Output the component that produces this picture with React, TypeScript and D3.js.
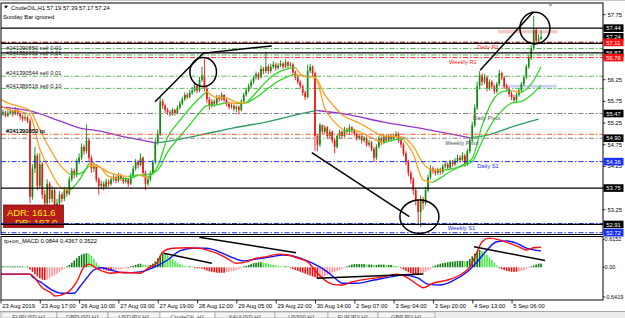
import React from "react";
import * as d3 from "d3";

// ---------------- DATA ----------------
const firstOpen = 55.4;
const closes = [
  55.45, 55.5, 55.42, 55.48, 55.52, 55.45, 55.55, 55.47, 55.4, 55.35,
  55.38, 55.3, 53.55, 54.2, 54.5, 53.8, 54.3, 53.6, 53.4, 53.85,
  53.5, 53.7, 53.3, 53.4, 53.6, 53.5, 53.7, 53.62, 53.95, 54.15,
  54.05, 54.35, 54.45, 54.7, 54.6, 54.85, 54.45, 54.2, 54.25, 53.95,
  53.8, 53.85, 53.78, 53.9, 53.85, 53.95, 54.0, 53.92, 54.05, 53.98,
  53.9, 53.95, 53.85, 54.05, 54.2, 54.35, 54.28, 54.45, 54.1, 53.85,
  53.95, 54.1, 54.35, 54.8, 55.0, 55.75, 55.65, 55.55, 55.5, 55.45,
  55.55, 55.48, 55.6, 55.7, 55.8, 55.9, 55.85, 55.95, 56.0, 56.1,
  56.0, 56.25, 56.35, 56.05, 55.8, 55.65, 55.75, 55.7, 55.85, 55.8,
  55.9, 55.78, 55.7, 55.62, 55.65, 55.58, 55.62, 55.55, 55.75, 55.9,
  56.0, 56.1, 56.2, 56.3, 56.38, 56.3, 56.5, 56.45, 56.55, 56.45,
  56.55, 56.6, 56.52, 56.58, 56.62, 56.55, 56.65, 56.58, 56.6, 56.42,
  56.3, 56.2, 56.1, 55.95, 55.85, 56.45, 56.55, 56.4, 54.95, 54.75,
  55.2, 55.05, 55.15, 54.95, 55.05, 54.85, 54.7, 54.95, 55.05, 54.95,
  55.1, 55.05, 55.15, 55.08, 55.0, 54.9, 54.95, 54.85, 54.9, 54.75,
  54.8, 54.65, 54.45, 54.7, 54.9, 54.8, 54.95, 54.85, 54.95, 54.88,
  54.95, 55.0, 54.85, 54.75, 54.55, 54.35, 54.1, 53.95, 53.7, 53.45,
  53.2, 53.5, 53.4, 53.7, 54.0, 54.2, 54.15, 54.1, 54.18, 54.12,
  54.25, 54.3, 54.22, 54.35, 54.3, 54.38, 54.45, 54.4, 54.5, 54.3,
  54.6, 54.85, 55.2, 55.6, 56.1, 56.35, 56.2, 56.3, 56.05, 56.2,
  56.1, 55.98, 56.15, 56.4, 56.3, 56.1, 56.05, 55.92, 55.85, 55.78,
  55.9, 56.0, 56.15, 56.3, 56.55, 56.75, 56.98, 57.4, 57.15, 57.19,
  57.24,
];
const highs = [
  55.52, 55.56, 55.53, 55.54, 55.58, 55.55, 55.62, 55.57, 55.5, 55.44,
  55.45, 55.42, 55.35, 54.3, 54.7, 54.55, 54.55, 54.35, 53.7, 53.95,
  53.9, 53.8, 53.75, 53.5, 53.68, 53.65, 53.78, 53.75, 54.02, 54.22,
  54.2, 54.42, 54.55, 54.78, 54.75, 55.22, 54.9, 54.5, 54.35, 54.3,
  54.0, 53.92, 53.9, 53.96, 53.95, 54.02, 54.08, 54.04, 54.1, 54.08,
  54.02, 54.0, 53.98, 54.1, 54.26, 54.42, 54.4, 54.55, 54.48, 54.15,
  54.02, 54.15, 54.4, 54.88, 55.1, 55.85, 55.8, 55.7, 55.6, 55.55,
  55.6, 55.58, 55.66, 55.76, 55.86, 55.96, 55.95, 56.02, 56.08, 56.16,
  56.14, 56.32, 56.55, 56.75, 56.1, 55.85, 55.8, 55.8, 55.9, 55.9,
  55.96, 55.92, 55.82, 55.74, 55.72, 55.68, 55.66, 55.66, 55.8, 55.95,
  56.06, 56.16, 56.26, 56.35, 56.44, 56.42, 56.58, 56.55, 56.9, 56.6,
  56.62, 56.68, 56.64, 56.64, 56.7, 56.66, 56.72, 56.68, 56.66, 56.64,
  56.46, 56.35, 56.24, 56.14, 56.0, 56.6, 56.62, 56.58, 56.44, 55.0,
  55.25, 55.22, 55.2, 55.18, 55.1, 55.08, 54.9, 55.0, 55.1, 55.08,
  55.16, 55.14, 55.22, 55.18, 55.12, 55.04, 55.0, 54.98, 54.95, 54.94,
  54.86, 54.84, 54.7, 54.76, 54.96, 54.94, 55.0, 54.98, 55.0, 54.98,
  55.0, 55.06, 55.04, 54.9, 54.8, 54.6, 54.4, 54.15, 54.0, 53.75,
  53.5, 53.58, 53.55, 53.78, 54.06, 54.28, 54.25, 54.2, 54.22, 54.22,
  54.3, 54.36, 54.34, 54.4, 54.4, 54.44, 54.52, 54.5, 54.58, 54.54,
  54.66, 54.92, 55.28, 55.68, 56.2, 56.45, 56.4, 56.38, 56.34, 56.26,
  56.24, 56.14, 56.2, 56.48, 56.44, 56.34, 56.16, 56.08, 55.98, 55.9,
  55.95, 56.06, 56.2, 56.36, 56.6, 56.82, 57.05, 57.72, 57.45, 57.3,
  57.39,
];
const lows = [
  55.36, 55.42, 55.38, 55.39, 55.44, 55.4, 55.43, 55.42, 55.33, 55.28,
  55.3, 55.25, 53.4, 53.48, 54.1, 53.7, 53.75, 53.5, 53.25, 53.35,
  53.4, 53.42, 53.12, 53.22, 53.35, 53.42, 53.45, 53.55, 53.58, 53.9,
  53.98, 54.0, 54.3, 54.4, 54.52, 54.55, 54.38, 54.1, 54.12, 53.88,
  53.6, 53.72, 53.7, 53.74, 53.78, 53.8, 53.9, 53.86, 53.88, 53.92,
  53.84, 53.86, 53.78, 53.82, 54.0, 54.15, 54.2, 54.25, 54.02, 53.7,
  53.8, 53.9, 54.05, 54.3, 54.75, 54.95, 55.58, 55.48, 55.44, 55.4,
  55.42, 55.42, 55.45, 55.56, 55.66, 55.76, 55.8, 55.82, 55.9, 55.96,
  55.94, 55.96, 56.2, 55.98, 55.72, 55.55, 55.6, 55.62, 55.66, 55.74,
  55.76, 55.72, 55.64, 55.56, 55.58, 55.52, 55.5, 55.45, 55.52, 55.7,
  55.86, 55.96, 56.05, 56.15, 56.25, 56.24, 56.28, 56.38, 56.4, 56.38,
  56.4, 56.5, 56.46, 56.48, 56.54, 56.5, 56.52, 56.52, 56.54, 56.36,
  56.24, 56.14, 56.04, 55.88, 55.78, 55.82, 56.4, 56.32, 54.6, 54.6,
  54.7, 54.98, 55.0, 54.88, 54.9, 54.78, 54.55, 54.66, 54.9, 54.88,
  54.92, 54.98, 55.0, 55.02, 54.94, 54.84, 54.86, 54.78, 54.8, 54.7,
  54.7, 54.6, 54.35, 54.4, 54.66, 54.74, 54.76, 54.8, 54.82, 54.82,
  54.84, 54.9, 54.8, 54.68, 54.48, 54.28, 54.02, 53.85, 53.6, 53.35,
  52.95, 52.85, 53.25, 53.35, 53.65, 53.95, 54.08, 54.04, 54.06, 54.06,
  54.08, 54.2, 54.16, 54.18, 54.24, 54.26, 54.32, 54.34, 54.36, 54.24,
  54.26, 54.55, 54.8, 55.15, 55.55, 56.02, 56.12, 56.15, 55.98, 56.0,
  56.04, 55.92, 55.94, 56.1, 56.24, 56.04, 55.98, 55.86, 55.78, 55.72,
  55.74, 55.86, 55.96, 56.1, 56.26, 56.5, 56.7, 56.92, 57.08, 57.1,
  57.17,
];

const timeLabels = [
  "23 Aug 2019", "23 Aug 17:00", "26 Aug 10:00", "27 Aug 03:00", "27 Aug 19:00",
  "28 Aug 12:00", "29 Aug 05:00", "29 Aug 22:00", "30 Aug 14:00", "2 Sep 07:00",
  "3 Sep 04:00", "3 Sep 20:00", "4 Sep 13:00", "5 Sep 06:00",
];
const timeLabelBars = [0, 16, 32, 48, 64, 80, 96, 112, 128, 144, 160, 176, 192, 208];

const priceTicks = [57.75, 57.25, 56.75, 56.25, 55.75, 55.25, 54.75, 54.25, 53.75, 53.25, 52.75];
const macdTicks = [0.6152, 0, -0.6419];
const macdTickLabels = ["0.6152", "0.00", "-0.6419"];

// moving averages
const maBars = [
  0, 4, 8, 12, 16, 20, 24, 28, 32, 36, 40, 44, 48, 52, 56, 60, 64, 68, 72, 76,
  80, 84, 88, 92, 96, 100, 104, 108, 112, 116, 120, 124, 128, 132, 136, 140, 144, 148, 152, 156,
  160, 164, 168, 172, 176, 180, 184, 188, 192, 196, 200, 204, 208, 212, 216, 220,
];
const fastMA = [
  55.65, 55.55, 55.52, 55.43, 54.65, 54.18, 53.8, 53.69, 53.93, 54.32,
  54.26, 54.02, 53.97, 53.97, 54.05, 54.0, 54.25, 54.92, 55.24, 55.52,
  55.77, 55.98, 55.84, 55.83, 55.73, 55.71, 55.95, 56.2, 56.39, 56.49,
  56.53, 56.32, 56.31, 55.59, 55.27, 55.07, 55.09, 55.0, 54.88, 54.79,
  54.86, 54.88, 54.53, 53.94, 53.88, 54.02, 54.16, 54.28, 54.43, 55.19,
  55.74, 55.97, 56.0, 55.95, 56.15, 56.55,
];
const slowMA = [
  55.8, 55.69, 55.63, 55.54, 55.09, 54.67, 54.3, 54.07, 54.08, 54.26,
  54.24, 54.11, 54.05, 54.02, 54.05, 54.06, 54.16, 54.58, 54.87, 55.14,
  55.42, 55.65, 55.67, 55.72, 55.7, 55.72, 55.84, 56.01, 56.18, 56.3,
  56.38, 56.33, 56.3, 55.9, 55.62, 55.4, 55.3, 55.19, 55.05, 54.95,
  54.94, 54.92, 54.71, 54.32, 54.17, 54.16, 54.2, 54.26, 54.36, 54.83,
  55.25, 55.53, 55.71, 55.75, 55.9, 56.12,
];
const longBars = [0, 12, 24, 32, 40, 49, 57, 63, 69, 81, 95, 108, 122, 129, 142, 156, 170, 183, 191, 198, 207, 219];
const longMA = [
  55.62, 55.53, 55.3, 55.14, 55.07, 54.95, 54.86, 54.79, 54.84, 54.97, 55.14,
  55.27, 55.46, 55.54, 55.44, 55.27, 55.14, 55.0, 54.91, 54.97, 55.14, 55.34,
];

// MACD
const macdMainBars = [
  0, 12, 17, 21, 22, 27, 31, 34, 36, 39, 45, 49, 57, 60, 64, 66, 70, 76, 81, 84,
  88, 92, 96, 100, 104, 108, 113, 117, 121, 125, 129, 133, 135, 139, 143, 149, 156, 161, 165, 170,
  172, 176, 182, 187, 191, 194, 196, 199, 203, 207, 211, 214, 217, 220,
];
const macdMain = [
  -0.15, -0.15, -0.45, -0.58, -0.63, -0.56, -0.32, 0.01, 0.07, -0.02,
  -0.13, -0.11, -0.13, -0.02, 0.12, 0.34, 0.42, 0.43, 0.42, 0.38,
  0.31, 0.2, 0.09, 0.12, 0.2, 0.23, 0.29, 0.27, 0.2, 0.12,
  -0.13, -0.32, -0.37, -0.39, -0.32, -0.26, -0.21, -0.15, -0.21, -0.39,
  -0.45, -0.35, -0.28, -0.17, 0.01, 0.34, 0.56, 0.64, 0.6, 0.53,
  0.45, 0.38, 0.43, 0.44,
];
const macdSignalBars = [
  0, 12, 13, 17, 21, 25, 30, 32, 35, 38, 41, 45, 50, 57, 62, 68, 73, 78, 84, 89,
  95, 99, 104, 110, 115, 119, 123, 127, 133, 137, 139, 145, 152, 159, 164, 170, 174, 179, 184, 190,
  194, 198, 202, 206, 210, 214, 220,
];
const macdSignal = [
  -0.15, -0.15, -0.21, -0.35, -0.5, -0.57, -0.57, -0.45, -0.24, -0.06,
  -0.01, -0.06, -0.12, -0.1, -0.01, 0.16, 0.36, 0.42, 0.42, 0.34,
  0.2, 0.14, 0.18, 0.23, 0.27, 0.25, 0.18, 0.09, -0.1, -0.28,
  -0.35, -0.35, -0.28, -0.21, -0.17, -0.24, -0.37, -0.39, -0.3, -0.1,
  0.12, 0.38, 0.56, 0.58, 0.53, 0.42, 0.36,
];
const macdHist = [
  0.01, 0.01, 0.01, 0.01, 0.01, 0.01, 0.01, 0.01, 0.01, 0.01,
  0.0, 0.0, -0.05, -0.1, -0.15, -0.2, -0.24, -0.27, -0.28, -0.27,
  -0.24, -0.2, -0.18, -0.14, -0.1, -0.06, -0.03, 0.01, 0.05, 0.1,
  0.15, 0.2, 0.25, 0.28, 0.3, 0.31, 0.3, 0.25, 0.18, 0.1,
  0.04, -0.02, -0.05, -0.07, -0.08, -0.08, -0.07, -0.06, -0.05, -0.04,
  -0.03, -0.02, -0.02, 0.01, 0.03, 0.05, 0.07, 0.08, 0.06, 0.05,
  0.04, 0.05, 0.08, 0.13, 0.2, 0.26, 0.3, 0.29, 0.26, 0.22,
  0.18, 0.14, 0.1, 0.07, 0.04, 0.02, 0.01, 0.01, 0.0, -0.01,
  -0.01, -0.02, -0.03, -0.05, -0.07, -0.09, -0.1, -0.11, -0.12, -0.12,
  -0.12, -0.12, -0.11, -0.1, -0.09, -0.08, -0.06, -0.04, -0.02, 0.01,
  0.03, 0.05, 0.07, 0.09, 0.1, 0.11, 0.11, 0.1, 0.09, 0.08,
  0.06, 0.05, 0.04, 0.03, 0.02, 0.01, 0.01, 0.0, -0.02, -0.04,
  -0.06, -0.08, -0.1, -0.12, -0.14, -0.16, -0.18, -0.2, -0.22, -0.24,
  -0.23, -0.21, -0.19, -0.17, -0.14, -0.12, -0.1, -0.08, -0.06, -0.04,
  -0.02, 0.02, 0.04, 0.06, 0.07, 0.07, 0.07, 0.07, 0.07, 0.06,
  0.06, 0.06, 0.05, 0.05, 0.06, 0.06, 0.06, 0.05, 0.05, 0.05,
  0.04, 0.03, 0.01, -0.02, -0.05, -0.08, -0.11, -0.13, -0.15, -0.16,
  -0.16, -0.15, -0.13, -0.1, -0.07, -0.04, 0.02, 0.04, 0.06, 0.08,
  0.09, 0.1, 0.11, 0.12, 0.13, 0.13, 0.14, 0.14, 0.14, 0.13,
  0.14, 0.18, 0.24, 0.3, 0.35, 0.38, 0.36, 0.32, 0.27, 0.22,
  0.16, 0.1, 0.04, -0.01, -0.04, -0.06, -0.08, -0.09, -0.1, -0.1,
  -0.1, -0.09, -0.08, -0.06, -0.04, -0.02, 0.01, 0.04, 0.06, 0.08,
  0.08,
];

// horizontal levels
const levelPrices = [57.44, 57.115, 57.09, 56.97, 56.87, 56.82, 56.76, 56.33, 56.05, 55.47, 54.99, 54.9, 54.36, 53.75, 52.93, 52.91, 52.72];
const levelKinds = ["solid", "darkred", "solid", "order", "solid", "order", "red", "order", "order", "gray", "tp", "gray", "blue", "solid", "blue", "solid", "blue"];

const priceBoxValues = [57.44, 57.24, 57.11, 56.87, 56.76, 55.47, 54.9, 54.36, 53.75, 52.91, 52.72];
const priceBoxKinds = ["black", "black", "red", "black", "red", "black", "black", "blue", "black", "black", "blue"];

const orderLabels = ["#241390850 sell 0.01", "#241391002 sell 0.01", "#241390544 sell 0.01", "#241386516 sell 0.10", "#241390850 tp", "#241391002 tp"];
const orderLabelPrices = [56.93, 56.81, 56.37, 56.06, 55.02, 55.02];

const pivotLabels = ["Daily R1", "Weekly R1", "Daily Pivot", "Weekly Pivot", "Daily S1", "Weekly S1"];
const pivotLabelBars = [194, 182.5, 192.3, 181, 194, 182];
const pivotLabelPrices = [57.11, 56.76, 55.47, 54.9, 54.36, 52.93];
const pivotLabelKinds = ["red", "red", "gray", "gray", "blue", "blue"];

const zoneBarStart = [202.5, 204];
const zoneBarEnd = [226.5, 226.5];
const zoneTop = [57.4, 56.13];
const zoneBottom = [57.32, 56.07];
const zoneKinds = ["pink", "lavender"];

const trendBar1 = [62.9, 82.5, 126.7, 195.2];
const trendPrice1 = [55.74, 56.86, 54.57, 56.47];
const trendBar2 = [82.5, 110.4, 166.4, 216.9];
const trendPrice2 = [56.86, 57.03, 53.09, 57.82];

const ellipseBar = [82.5, 170.5, 217.5];
const ellipsePrice = [56.43, 53.09, 57.44];

const macdTrendBar1 = [80.9, 66.3, 128.7, 192.7];
const macdTrendVal1 = [0.66, 0.31, -0.24, 0.45];
const macdTrendBar2 = [120.3, 86, 172.1, 221.6];
const macdTrendVal2 = [0.32, 0.09, -0.15, 0.15];

const titleText = "CrudeOIL,H1  57.19 57.39 57.17 57.24";
const subTitle = "Sunday Bar ignored";
const macdTitle = "tp+on_MACD 0.0844 0.4367 0.3522";
const adrText = "ADR: 161.6";
const drText = "DR: 197.0";
const tabNames = ["EURUSD,H1", "GBPUSD,H1", "USDJPY,H1", "CrudeOIL,H1", "XAUUSD,H1", "US500,H1", "EURJPY,H1", "GBPJPY,H1"];

// ---------------- STYLE ----------------
const FONT = "'Liberation Sans', Arial, sans-serif";
const FS = 5.8;
const BULL = "#0f8a0f";
const BEAR = "#ee1515";
const ORANGE = "#ffa01e";
const LIME = "#34d62a";
const PURPLE = "#9932cc";
const SEAGREEN = "#2e9b5e";
const PLOT = { left: 1, right: 603, top: 3, bottom: 234.5 };
const MPLOT = { top: 236.5, bottom: 300 };
const ellipseRadii = [[13.3, 14.5], [19.5, 16.7], [15, 15.8]];
const tabEdges = [1, 57, 108, 160, 215, 275, 328, 378, 435];

const levelStyle: Record<string, { stroke: string; dash?: string; w: number }> = {
  solid: { stroke: "#000", w: 1.2 },
  darkred: { stroke: "#9b0000", dash: "5,2,1.5,2", w: 1.1 },
  order: { stroke: "#55bb55", dash: "5,2,1.5,2", w: 1 },
  red: { stroke: "#ff2020", dash: "5,2,1.5,2", w: 1 },
  gray: { stroke: "#808080", dash: "5,2,1.5,2", w: 1 },
  tp: { stroke: "#ff5a1a", dash: "5,2,1.5,2", w: 1 },
  blue: { stroke: "#2030ee", dash: "5,2,1.5,2", w: 1 },
};
const boxFill: Record<string, string> = { black: "#000", red: "#ff1010", blue: "#1830ff" };
const textColor: Record<string, string> = { red: "#ff2020", gray: "#555555", blue: "#2030ee" };
const zoneFill: Record<string, string> = { pink: "#f6c8c8", lavender: "#cfd0f4" };

function runs(bars: number[], vals: number[]) {
  const out: { up: boolean; pts: [number, number][] }[] = [];
  for (let k = 1; k < bars.length; k++) {
    const up = vals[k] >= vals[k - 1];
    const last = out[out.length - 1];
    if (last && last.up === up) last.pts.push([bars[k], vals[k]]);
    else out.push({ up, pts: [[bars[k - 1], vals[k - 1]], [bars[k], vals[k]]] });
  }
  return out;
}

export default function App() {
  const x = d3.scaleLinear().domain([0, 245]).range([0.5, 0.5 + 245 * 2.457]);
  const y = d3.scaleLinear().domain([57.75, 52.72]).range([14.7, 232.7]);
  const ym = d3.scaleLinear().domain([0.6152, -0.6419]).range([239.3, 296.5]);

  const lineMain = d3.line<[number, number]>().x((d) => x(d[0])).y((d) => y(d[1])).curve(d3.curveMonotoneX);
  const lineMacd = d3.line<[number, number]>().x((d) => x(d[0])).y((d) => ym(d[1])).curve(d3.curveMonotoneX);

  const bw = 1.7;

  const maLayer = (bars: number[], vals: number[], upCol: string, downCol: string, key: string) =>
    runs(bars, vals).map((r, k) => (
      <path key={key + k} d={lineMain(r.pts) || ""} fill="none" stroke={r.up ? upCol : downCol} strokeWidth={1.3} />
    ));

  return (
    <svg width={625} height={318} style={{ position: "absolute", left: 0, top: 0, background: "#fff" }} fontFamily={FONT}>
      <defs>
        <clipPath id="mainClip">
          <rect x={PLOT.left} y={PLOT.top} width={PLOT.right - PLOT.left} height={PLOT.bottom - PLOT.top} />
        </clipPath>
        <clipPath id="macdClip">
          <rect x={PLOT.left} y={MPLOT.top} width={PLOT.right - PLOT.left} height={MPLOT.bottom - MPLOT.top} />
        </clipPath>
        <clipPath id="drClip">
          <rect x={0} y={200} width={70} height={23.5} />
        </clipPath>
      </defs>
      <rect x={0} y={0} width={625} height={318} fill="#fff" />
      <line x1={0} x2={625} y1={0.5} y2={0.5} stroke="#c8c8c8" />

      {/* ---------- MAIN PANEL ---------- */}
      <g clipPath="url(#mainClip)">
        {zoneKinds.map((k, i) => (
          <rect key={"z" + i} x={x(zoneBarStart[i])} width={x(zoneBarEnd[i]) - x(zoneBarStart[i])} y={y(zoneTop[i])} height={y(zoneBottom[i]) - y(zoneTop[i])} fill={zoneFill[k]} />
        ))}
        {closes.map((c, i) => {
          const o = i === 0 ? firstOpen : closes[i - 1];
          const col = c >= o ? BULL : BEAR;
          const cx = x(i);
          const yt = y(Math.max(o, c));
          const yb = y(Math.min(o, c));
          return (
            <g key={"c" + i}>
              <line x1={cx} x2={cx} y1={y(highs[i])} y2={y(lows[i])} stroke={col} strokeWidth={0.9} />
              <rect x={cx - bw / 2} y={yt} width={bw} height={Math.max(0.9, yb - yt)} fill={col} />
            </g>
          );
        })}
        {maLayer(longBars, longMA, SEAGREEN, PURPLE, "l")}
        {maLayer(maBars, slowMA, LIME, ORANGE, "s")}
        {maLayer(maBars, fastMA, LIME, ORANGE, "f")}

        {/* ADR box */}
        <rect x={3.5} y={205} width={60} height={22.5} fill="#b41c1c" stroke="#8a1010" strokeWidth={0.8} />
        <text x={7} y={216} fontSize={9.4} fill="#ffee00">{adrText}</text>
        <g clipPath="url(#drClip)">
          <text x={15} y={225.8} fontSize={9.4} fill="#ffee00">{drText}</text>
        </g>

        {levelPrices.map((p, i) => {
          const s = levelStyle[levelKinds[i]];
          return (
            <line key={"lv" + i} x1={PLOT.left} x2={PLOT.right} y1={y(p)} y2={y(p)} stroke={s.stroke} strokeWidth={s.w} strokeDasharray={s.dash} />
          );
        })}

        {orderLabels.map((t, i) => (
          <text key={"ol" + i} x={6} y={y(orderLabelPrices[i])} fontSize={FS} fill="#222">{t}</text>
        ))}
        {pivotLabels.map((t, i) => (
          <text key={"pl" + i} x={x(pivotLabelBars[i])} y={y(pivotLabelPrices[i]) + 6.6} fontSize={FS} fill={textColor[pivotLabelKinds[i]]}>{t}</text>
        ))}

        {trendBar1.map((b, i) => (
          <line key={"t" + i} x1={x(b)} y1={y(trendPrice1[i])} x2={x(trendBar2[i])} y2={y(trendPrice2[i])} stroke="#000" strokeWidth={1.5} />
        ))}
        {ellipseBar.map((b, i) => (
          <ellipse key={"e" + i} cx={x(b)} cy={y(ellipsePrice[i])} rx={ellipseRadii[i][0]} ry={ellipseRadii[i][1]} fill="none" stroke="#000" strokeWidth={1.5} />
        ))}

        {/* header */}
        <path d="M4,5.8 L8,5.8 L6,8.6 Z" fill="#000" />
        <text x={11} y={10} fontSize={FS} fill="#000">{titleText}</text>
        <text x={3} y={18.6} fontSize={FS} fill="#000">{subTitle}</text>
        <path d="M548.5,4 L552.5,4 L550.5,6.8 Z" fill="#a0a0a0" />
      </g>
      <rect x={PLOT.left} y={PLOT.top} width={PLOT.right - PLOT.left} height={PLOT.bottom - PLOT.top} fill="none" stroke="#000" strokeWidth={1} />

      {/* right price axis */}
      {priceTicks.map((p, i) => (
        <g key={"pt" + i}>
          <line x1={PLOT.right} x2={PLOT.right + 2.5} y1={y(p)} y2={y(p)} stroke="#000" strokeWidth={0.8} />
          <text x={607.5} y={y(p) + 2} fontSize={FS} fill="#000">{p.toFixed(2)}</text>
        </g>
      ))}
      {priceBoxValues.map((p, i) => (
        <g key={"pb" + i}>
          <rect x={603.5} y={y(p) - 3.8} width={20} height={7.6} fill={boxFill[priceBoxKinds[i]]} />
          <text x={606.3} y={y(p) + 2.1} fontSize={FS} fill="#fff">{p.toFixed(2)}</text>
        </g>
      ))}

      {/* ---------- MACD PANEL ---------- */}
      <g clipPath="url(#macdClip)">
        {macdHist.map((v, i) => {
          const prev = i === 0 ? v : macdHist[i - 1];
          const col = v >= 0 ? (v >= prev ? "#0a7a0a" : "#44ee44") : v <= prev ? "#ee1111" : "#ff9a9a";
          const y0 = ym(0);
          const y1 = ym(v);
          const top = Math.min(y0, y1);
          const h = Math.max(0.9, Math.abs(y1 - y0));
          return <rect key={"h" + i} x={x(i) - 0.8} y={v >= 0 ? y0 - h : top} width={1.6} height={h} fill={col} />;
        })}
        <path d={lineMacd(macdSignalBars.map((b, i) => [b, macdSignal[i]] as [number, number])) || ""} fill="none" stroke="#1010ff" strokeWidth={1.4} />
        <path d={lineMacd(macdMainBars.map((b, i) => [b, macdMain[i]] as [number, number])) || ""} fill="none" stroke="#ff1010" strokeWidth={1.4} />
        {macdTrendBar1.map((b, i) => (
          <line key={"mt" + i} x1={x(b)} y1={ym(macdTrendVal1[i])} x2={x(macdTrendBar2[i])} y2={ym(macdTrendVal2[i])} stroke="#000" strokeWidth={1.5} />
        ))}
        <text x={4} y={242.5} fontSize={FS} fill="#000">{macdTitle}</text>
      </g>
      <rect x={PLOT.left} y={MPLOT.top} width={PLOT.right - PLOT.left} height={MPLOT.bottom - MPLOT.top} fill="none" stroke="#000" strokeWidth={1} />
      {macdTicks.map((v, i) => (
        <g key={"mtk" + i}>
          <line x1={PLOT.right} x2={PLOT.right + 1.5} y1={ym(v)} y2={ym(v)} stroke="#000" strokeWidth={0.8} />
          <text x={604.6} y={ym(v) + 2} fontSize={5.5} fill="#000">{macdTickLabels[i]}</text>
        </g>
      ))}

      {/* time axis */}
      {timeLabels.map((t, i) => (
        <g key={"tl" + i}>
          <line x1={x(timeLabelBars[i]) + 0.5} x2={x(timeLabelBars[i]) + 0.5} y1={300} y2={303.5} stroke="#000" strokeWidth={0.8} />
          <text x={x(timeLabelBars[i]) + 1.8} y={307.6} fontSize={FS} fill="#000">{t}</text>
        </g>
      ))}

      {/* bottom tabs */}
      <rect x={0} y={311} width={625} height={7} fill="#ececec" />
      <line x1={0} x2={625} y1={311.5} y2={311.5} stroke="#a8a8a8" strokeWidth={1} />
      {tabNames.map((t, i) => (
        <g key={"tab" + i}>
          <rect x={tabEdges[i]} y={312} width={tabEdges[i + 1] - tabEdges[i]} height={6} fill={i === 3 ? "#fff" : "#f4f4f4"} stroke="#a8a8a8" strokeWidth={0.8} />
          <text x={(tabEdges[i] + tabEdges[i + 1]) / 2} y={318.5} fontSize={FS} fill="#555" textAnchor="middle">{t}</text>
        </g>
      ))}
    </svg>
  );
}
